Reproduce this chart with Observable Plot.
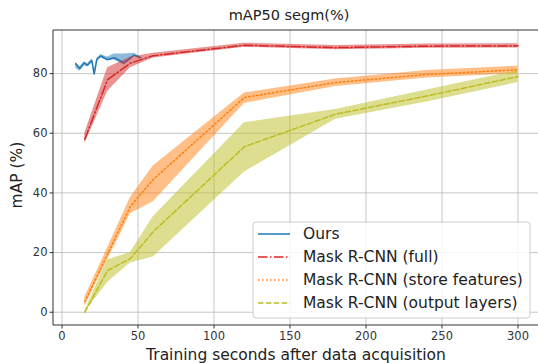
<!DOCTYPE html>
<html><head><meta charset="utf-8">
<script src="https://cdn.jsdelivr.net/npm/d3@7"></script>
<script src="https://cdn.jsdelivr.net/npm/@observablehq/plot@0.6"></script>
<style>
body{margin:0;background:#fff;}
#chart{width:538px;height:363px;overflow:hidden;}
</style>
</head><body><div id="chart"></div>
<script>
// ---- data ----
const titleText = "mAP50 segm(%)";
const xLabel = "Training seconds after data acquisition";
const yLabel = "mAP (%)";
const xTicks = [0, 50, 100, 150, 200, 250, 300];
const yTicks = [0, 20, 40, 60, 80];
const seriesNames = ["Ours", "Mask R-CNN (full)", "Mask R-CNN (store features)", "Mask R-CNN (output layers)"];

const oursX  = [9, 11.7, 14.6, 16.8, 19.6, 21.2, 22.9, 25.5, 29.9, 34.3, 40.9, 47.5, 51.8];
const oursY  = [83.3, 81.7, 83.6, 82.8, 84.4, 79.9, 84.7, 85.9, 84.7, 85.3, 83.6, 86.2, 85.3];
const oursLo = [81.8, 80.8, 82.6, 82.2, 83.8, 79.4, 84.2, 85.3, 84.2, 84.6, 82.8, 85.7, 85.0];
const oursHi = [83.8, 82.3, 84.0, 83.3, 85.0, 80.4, 85.1, 86.4, 85.6, 86.6, 86.6, 86.8, 85.6];

const fullX  = [15, 30, 45, 60, 120, 180, 240, 300];
const fullY  = [58, 78, 83.5, 86, 89.5, 88.7, 89.2, 89.3];
const fullLo = [56.5, 74, 82, 85.2, 88.8, 88.0, 88.5, 88.6];
const fullHi = [60, 82, 85.5, 86.8, 90.2, 89.4, 89.9, 90.0];

const storeX  = [15, 30, 45, 60, 120, 180, 240, 300];
const storeY  = [3.5, 19.5, 35.5, 44.5, 72, 77, 79.7, 81.3];
const storeLo = [2, 17.5, 33, 37, 70, 75.7, 78.5, 80];
const storeHi = [5, 21.5, 38.5, 49, 73.5, 78.2, 81, 82.5];

const outX  = [15, 30, 45, 60, 120, 180, 240, 300];
const outY  = [0, 14, 18, 27, 55.5, 66.4, 72.5, 79];
const outLo = [0, 10, 16.5, 18.5, 47, 64.7, 70.5, 77];
const outHi = [0.5, 17.5, 20, 32, 63.5, 68, 74.5, 81];

// ---- build tables ----
const rows = (name, xs, ys, lo, hi) => xs.map((x, i) => ({name, x, y: ys[i], lo: lo[i], hi: hi[i]}));
const ours = rows(seriesNames[0], oursX, oursY, oursLo, oursHi);
const full = rows(seriesNames[1], fullX, fullY, fullLo, fullHi);
const store = rows(seriesNames[2], storeX, storeY, storeLo, storeHi);
const out = rows(seriesNames[3], outX, outY, outLo, outHi);

const C = {blue: "#1f77b4", red: "#d62728", orange: "#ff7f0e", olive: "#bcbd22"};
const styles = [
  {color: C.blue, dash: null},
  {color: C.red, dash: "9.6,2.4,1.5,2.4"},
  {color: C.orange, dash: "1.5,2.5"},
  {color: C.olive, dash: "5.5,2.4"}
];
const data = [ours, full, store, out];

const bandMarks = [];
data.forEach((d, i) => {
  bandMarks.push(Plot.areaY(d, {x: "x", y1: "lo", y2: "hi", fill: styles[i].color, fillOpacity: 0.5}));
  bandMarks.push(Plot.line(d, {x: "x", y: "y", stroke: styles[i].color, strokeWidth: 1.5,
    strokeDasharray: styles[i].dash || undefined}));
});

const W = 538, H = 363, ML = 53, MT = 30, MB = 38;
const plot = Plot.plot({
  width: W, height: H,
  marginLeft: ML, marginRight: 0, marginTop: MT, marginBottom: MB,
  style: {fontFamily: "DejaVu Sans", fontSize: "11.5px", background: "#fff", color: "#333"},
  x: {domain: [-5.6, 313.5]},
  y: {domain: [-4.45, 94.45]},
  marks: [
    Plot.gridX(xTicks, {stroke: "#b8b8b8", strokeOpacity: 0.8, strokeWidth: 1}),
    Plot.gridY(yTicks, {stroke: "#b8b8b8", strokeOpacity: 0.8, strokeWidth: 1}),
    ...bandMarks,
    Plot.axisX(xTicks, {tickSize: 3.5, tickPadding: 2.5, label: null, stroke: "#333"}),
    Plot.axisY(yTicks, {tickSize: 3.5, tickPadding: 2.5, label: null, stroke: "#333"})
  ]
});

const svg = d3.select(plot);
const axL = ML, axT = MT, axB = H - MB, axR = W;
// spines (left, top, bottom)
const sp = svg.append("g").attr("stroke", "#333").attr("stroke-width", 1);
sp.append("line").attr("x1", axL).attr("x2", axL).attr("y1", axT).attr("y2", axB);
sp.append("line").attr("x1", axL).attr("x2", axR).attr("y1", axT).attr("y2", axT);
sp.append("line").attr("x1", axL).attr("x2", axR).attr("y1", axB).attr("y2", axB);

// title and axis labels
svg.append("text").attr("x", 289).attr("y", 20).attr("text-anchor", "middle")
  .attr("font-size", "14.5px").attr("fill", "#222").text(titleText);
svg.append("text").attr("x", 296).attr("y", 360).attr("text-anchor", "middle")
  .attr("font-size", "15.5px").attr("fill", "#222").text(xLabel);
svg.append("text").attr("transform", "translate(22,175) rotate(-90)").attr("text-anchor", "middle")
  .attr("font-size", "15.5px").attr("fill", "#222").text(yLabel);

// legend
const lg = svg.append("g").attr("text-anchor", "start");
lg.append("rect").attr("x", 253).attr("y", 222).attr("width", 277).attr("height", 96).attr("rx", 3)
  .attr("fill", "#fff").attr("fill-opacity", 0.85).attr("stroke", "#cccccc");
seriesNames.forEach((n, i) => {
  const yy = 234 + i * 23;
  lg.append("line").attr("x1", 258).attr("x2", 290).attr("y1", yy).attr("y2", yy)
    .attr("stroke", styles[i].color).attr("stroke-width", 1.5)
    .attr("stroke-dasharray", styles[i].dash);
  lg.append("text").attr("x", 303).attr("y", yy).attr("dy", "0.35em").attr("text-anchor", "start")
    .attr("font-size", "15.5px").attr("fill", "#222").text(n);
});

document.getElementById("chart").append(plot);
</script>
</body></html>
